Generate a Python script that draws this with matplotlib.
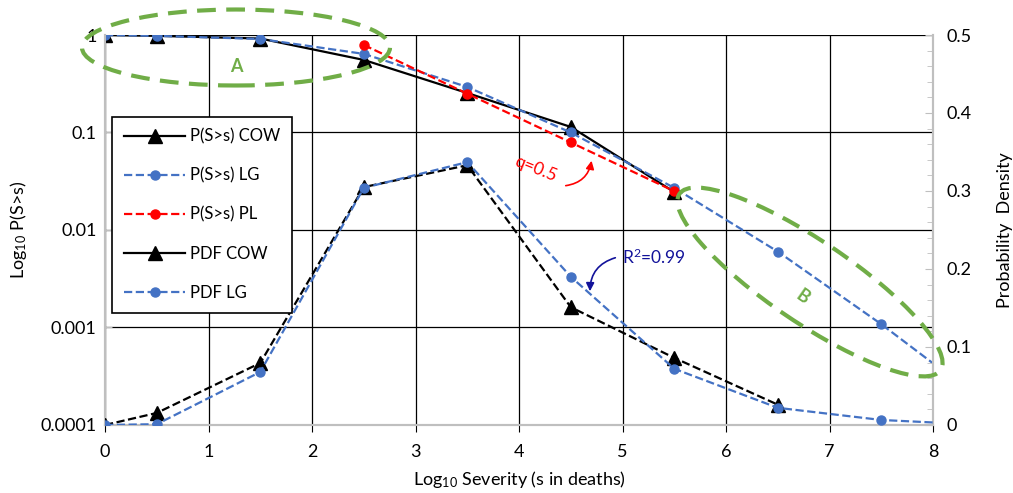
import numpy as np
import matplotlib
matplotlib.use('Agg')
import matplotlib.pyplot as plt
from matplotlib.patches import Ellipse
from matplotlib.lines import Line2D
from matplotlib.ticker import FixedLocator, MultipleLocator

plt.rcParams['font.family'] = ['Lato', 'DejaVu Sans']
plt.rcParams['mathtext.default'] = 'regular'

# log10 severity bins
x_cdf = [0, 0.5, 1.5, 2.5, 3.5, 4.5, 5.5]
cdf_cow = [1.0, 0.98, 0.92, 0.555, 0.254, 0.114, 0.0245]

x_lg = [0, 0.5, 1.5, 2.5, 3.5, 4.5, 5.5, 6.5, 7.5, 8.5]
cdf_lg = [1.0, 0.98, 0.91, 0.64, 0.293, 0.1, 0.027, 0.006, 0.00108, 0.00017]

x_pl = [2.5, 3.5, 4.5, 5.5]
cdf_pl = [0.79, 0.25, 0.079, 0.025]

x_pdf_cow = [0, 0.5, 1.5, 2.5, 3.5, 4.5, 5.5, 6.5]
pdf_cow = [0.0, 0.0154, 0.0795, 0.305, 0.333, 0.151, 0.086, 0.026]

pdf_lg = [0.0, 0.001, 0.068, 0.304, 0.337, 0.19, 0.072, 0.022, 0.0064, 0.0]

left_ticks = [1e-4, 1e-3, 1e-2, 1e-1, 1]
left_labels = ['0.0001', '0.001', '0.01', '0.1', '1']
right_ticks = [0, 0.1, 0.2, 0.3, 0.4, 0.5]
right_labels = ['0', '0.1', '0.2', '0.3', '0.4', '0.5']

BLUE = '#4472C4'
GREEN = '#70AD47'
NAVY = '#12129A'
GREY = '#BFBFBF'
FS = 13

fig = plt.figure(figsize=(10.13, 4.93), dpi=100)
ax = fig.add_axes([0.1037, 0.138, 0.8174, 0.791])
ax2 = ax.twinx()

# cumulative curves (left, log)
ax.plot(x_cdf, cdf_cow, '-', color='black', lw=1.6, marker='^', ms=10, zorder=3)
ax.plot(x_lg, cdf_lg, '--', color=BLUE, lw=1.6, marker='o', ms=6.5, zorder=4)
ax.plot(x_pl, cdf_pl, '--', color='red', lw=1.6, marker='o', ms=6.5, zorder=5)

# densities (right, linear)
ax2.plot(x_pdf_cow, pdf_cow, '--', color='black', lw=1.6, marker='^', ms=10, zorder=3)
ax2.plot(x_lg, pdf_lg, '--', color=BLUE, lw=1.6, marker='o', ms=6.5, zorder=4)

ax.set_xlim(0, 8)
ax.set_yscale('log')
ax.set_ylim(0.0001, 1)
ax.yaxis.set_major_locator(FixedLocator(left_ticks))
ax.yaxis.set_minor_locator(FixedLocator([]))
ax.set_yticklabels(left_labels)
ax.set_xticks(range(0, 9))
ax.grid(True, color='black', lw=0.9)

ax2.set_ylim(0, 0.5)
ax2.yaxis.set_major_locator(FixedLocator(right_ticks))
ax2.yaxis.set_minor_locator(MultipleLocator(0.02))
ax2.set_yticklabels(right_labels)

for a in (ax, ax2):
    a.spines['top'].set_visible(False)
    for s in ('left', 'right', 'bottom'):
        a.spines[s].set_color(GREY)
        a.spines[s].set_linewidth(1.5)

ax.tick_params(axis='y', direction='in', length=5, color=GREY, labelsize=FS, pad=6)
ax.tick_params(axis='x', direction='out', length=5, color='black', labelsize=FS, pad=9)
ax2.tick_params(axis='y', which='major', direction='in', length=6, color=GREY, labelsize=FS, pad=10)
ax2.tick_params(axis='y', which='minor', direction='in', length=4, color=GREY)

ax.set_xlabel('Log$_{10}$ Severity (s in deaths)', fontsize=FS, labelpad=6)
ax.set_ylabel('Log$_{10}$ P(S>s)', fontsize=FS, labelpad=8)
ax2.set_ylabel('Probability  Density', fontsize=FS, labelpad=18)

handles = [
    Line2D([], [], color='black', ls='-', lw=1.6, marker='^', ms=10),
    Line2D([], [], color=BLUE, ls='--', lw=1.6, marker='o', ms=6.5),
    Line2D([], [], color='red', ls='--', lw=1.6, marker='o', ms=6.5),
    Line2D([], [], color='black', ls='-', lw=1.6, marker='^', ms=10),
    Line2D([], [], color=BLUE, ls='--', lw=1.6, marker='o', ms=6.5),
]
labels = ['P(S>s) COW', 'P(S>s) LG', 'P(S>s) PL', 'PDF COW', 'PDF LG']
leg = ax2.legend(handles, labels, loc='upper left', bbox_to_anchor=(0.0085, 0.79),
                 borderaxespad=0, fancybox=False, framealpha=1, edgecolor='black',
                 fontsize=12, handlelength=3.7, labelspacing=1.38, borderpad=0.7,
                 handletextpad=0.25)
leg.get_frame().set_linewidth(1.2)
leg.set_zorder(10)

# highlight ellipses (figure inches)
tr = fig.dpi_scale_trans
dash = (0, (4.5, 2.5))
ellA = Ellipse((2.36, 4.455), 3.08, 0.76, transform=tr, fill=False,
               ec=GREEN, lw=3, ls=dash, clip_on=False, zorder=20)
ellB = Ellipse((8.10, 2.11), 3.15, 0.82, angle=-34, transform=tr, fill=False,
               ec=GREEN, lw=3, ls=dash, clip_on=False, zorder=20)
fig.add_artist(ellA)
fig.add_artist(ellB)
fig.text(2.36, 4.27, 'A', transform=tr, color=GREEN, fontsize=13, fontweight='bold',
         ha='center', va='center')
fig.text(8.03, 1.96, 'B', transform=tr, color=GREEN, fontsize=13, fontweight='bold',
         ha='center', va='center', rotation=-35)

# annotations
fig.text(5.36, 3.24, 'q=0.5', transform=tr, color='red', fontsize=12.5,
         ha='center', va='center', rotation=-22)
ax2.annotate('', xy=(592, 335), xytext=(563, 307), xycoords='figure pixels',
             textcoords='figure pixels',
             arrowprops=dict(arrowstyle='-|>', color='red', lw=1.2,
                             connectionstyle='arc3,rad=0.4', mutation_scale=12))
fig.text(6.22, 2.36, 'R$^2$=0.99', transform=tr, color=NAVY, fontsize=12.5,
         ha='left', va='center')
ax2.annotate('', xy=(590, 199), xytext=(618, 236), xycoords='figure pixels',
             textcoords='figure pixels',
             arrowprops=dict(arrowstyle='-|>', color=NAVY, lw=1.2,
                             connectionstyle='arc3,rad=0.4', mutation_scale=12))

fig.savefig('out.png', dpi=100)
